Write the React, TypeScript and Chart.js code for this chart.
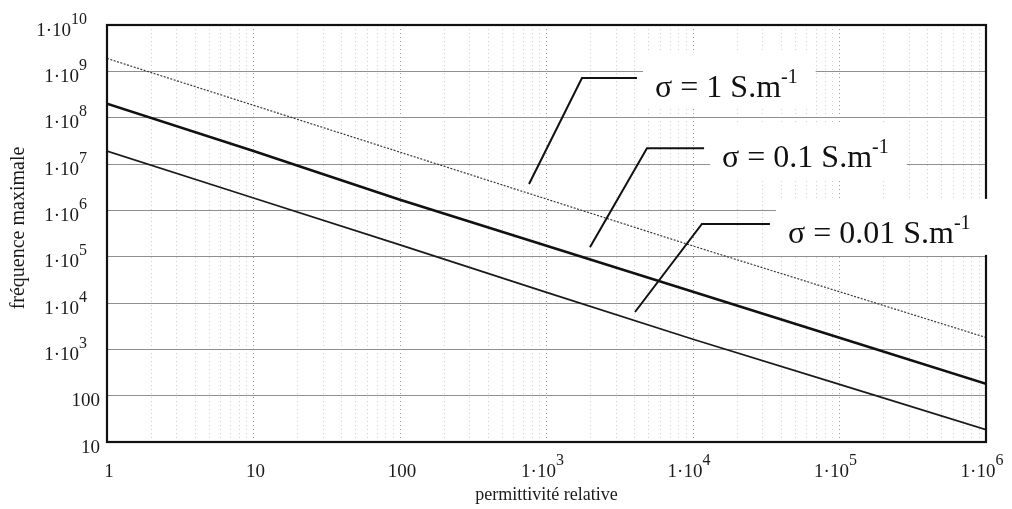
import React, { useEffect, useRef } from "react";
import { Chart, registerables } from "chart.js";

Chart.register(...registerables);

// ---- data ----
const permittivity = [1, 10, 100, 1e3, 1e4, 1e5, 1e6];
const freqSigma1 = [1.9e9, 1.85e8, 1.8e7, 1.75e6, 1.7e5, 1.75e4, 1.8e3];
const freqSigma01 = [2.0e8, 1.9e7, 1.7e6, 1.72e5, 1.75e4, 1.78e3, 180];
const freqSigma001 = [1.9e7, 1.85e6, 1.8e5, 1.7e4, 1.65e3, 175, 18.5];

const seriesNames = ["σ = 1 S.m", "σ = 0.1 S.m", "σ = 0.01 S.m"];
const seriesUnitExp = "-1";

// ---- tick labels ----
const xTickValues = [1, 10, 100, 1e3, 1e4, 1e5, 1e6];
const xTickBase = ["1", "10", "100", "1·10", "1·10", "1·10", "1·10"];
const xTickExp = ["", "", "", "3", "4", "5", "6"];

const yTickValues = [10, 100, 1e3, 1e4, 1e5, 1e6, 1e7, 1e8, 1e9, 1e10];
const yTickBase = ["10", "100", "1·10", "1·10", "1·10", "1·10", "1·10", "1·10", "1·10", "1·10"];
const yTickExp = ["", "", "3", "4", "5", "6", "7", "8", "9", "10"];

const xTitle = "permittivité relative";
const yTitle = "fréquence maximale";

// leader lines of the labels, in data coordinates [permittivity, frequency]
const leaderStart = [[760, 3.7e6], [1980, 1.6e5], [4020, 6.4e3]];
const leaderElbow = [[1746, 7.2e8], [4850, 2.2e7], [11500, 5.1e5]];
const leaderEnd = [[4150, 7.2e8], [11900, 2.2e7], [33500, 5.1e5]];

const SERIF = "'Liberation Serif', 'Times New Roman', serif";

function drawSup(
  ctx: CanvasRenderingContext2D,
  base: string,
  exp: string,
  x: number,
  baseline: number,
  align: "left" | "right" | "center",
  baseFont: string,
  expFont: string,
  raise: number
) {
  ctx.font = baseFont;
  const wb = ctx.measureText(base).width;
  ctx.font = expFont;
  const we = exp ? ctx.measureText(exp).width : 0;
  const total = wb + we;
  const left = align === "left" ? x : align === "right" ? x - total : x - total / 2;
  ctx.textAlign = "left";
  ctx.textBaseline = "alphabetic";
  ctx.font = baseFont;
  ctx.fillText(base, left, baseline);
  if (exp) {
    ctx.font = expFont;
    ctx.fillText(exp, left + wb, baseline - raise);
  }
  return total;
}

const decorPlugin = {
  id: "decor",
  beforeDraw(chart: any) {
    const ctx = chart.ctx as CanvasRenderingContext2D;
    ctx.save();
    ctx.fillStyle = "#ffffff";
    ctx.fillRect(0, 0, chart.width, chart.height);
    ctx.restore();
  },
  afterDatasetsDraw(chart: any) {
    const ctx = chart.ctx as CanvasRenderingContext2D;
    const area = chart.chartArea;
    const xs = chart.scales.x;
    const ys = chart.scales.y;
    ctx.save();
    // frame
    ctx.strokeStyle = "#111";
    ctx.lineWidth = 2.2;
    ctx.strokeRect(area.left, area.top, area.right - area.left, area.bottom - area.top);

    // labels with leader lines
    const bigFont = `32px ${SERIF}`;
    const supFont = `20px ${SERIF}`;
    for (let i = 0; i < seriesNames.length; i++) {
      const sx = xs.getPixelForValue(leaderStart[i][0]);
      const sy = ys.getPixelForValue(leaderStart[i][1]);
      const ex = xs.getPixelForValue(leaderElbow[i][0]);
      const ey = ys.getPixelForValue(leaderElbow[i][1]);
      const tx = xs.getPixelForValue(leaderEnd[i][0]);
      const ty = ys.getPixelForValue(leaderEnd[i][1]);
      const textLeft = tx + 18;
      const baseline = ty + 19;
      ctx.font = bigFont;
      const wb = ctx.measureText(seriesNames[i]).width;
      ctx.font = supFont;
      const we = ctx.measureText(seriesUnitExp).width;
      // white box
      ctx.fillStyle = "#ffffff";
      ctx.fillRect(textLeft - 12, baseline - 44, wb + we + 30, 56);
      // leader
      ctx.strokeStyle = "#111";
      ctx.lineWidth = 2;
      ctx.beginPath();
      ctx.moveTo(sx, sy);
      ctx.lineTo(ex, ey);
      ctx.lineTo(tx, ty);
      ctx.stroke();
      ctx.fillStyle = "#111";
      drawSup(ctx, seriesNames[i], seriesUnitExp, textLeft, baseline, "left", bigFont, supFont, 14);
    }

    // tick labels
    ctx.fillStyle = "#1a1a1a";
    const tickFont = `19px ${SERIF}`;
    const expFont = `16px ${SERIF}`;
    for (let i = 0; i < yTickValues.length; i++) {
      const py = ys.getPixelForValue(yTickValues[i]);
      if (yTickExp[i]) {
        drawSup(ctx, yTickBase[i], yTickExp[i], area.left - 20, py + 10.5, "right", tickFont, expFont, 12);
      } else {
        drawSup(ctx, yTickBase[i], "", area.left - 7, py + 10.5, "right", tickFont, expFont, 12);
      }
    }
    for (let i = 0; i < xTickValues.length; i++) {
      const px = xs.getPixelForValue(xTickValues[i]);
      if (xTickExp[i]) {
        drawSup(ctx, xTickBase[i], xTickExp[i], px - 4, area.bottom + 35, "center", tickFont, expFont, 12);
      } else {
        drawSup(ctx, xTickBase[i], "", px + 2, area.bottom + 35, "center", tickFont, expFont, 12);
      }
    }

    // axis titles
    ctx.font = `18px ${SERIF}`;
    ctx.textAlign = "center";
    ctx.textBaseline = "alphabetic";
    ctx.fillText(xTitle, (area.left + area.right) / 2, area.bottom + 58);
    ctx.font = `20px ${SERIF}`;
    ctx.translate(24, 228);
    ctx.rotate(-Math.PI / 2);
    ctx.fillText(yTitle, 0, 0);
    ctx.restore();
  },
};

export default function App() {
  const canvasRef = useRef<HTMLCanvasElement | null>(null);

  useEffect(() => {
    const canvas = canvasRef.current;
    if (!canvas) return;
    const mk = (arr: number[]) => permittivity.map((x, i) => ({ x, y: arr[i] }));
    const xGrid: number[] = [];
    for (let d = 1; d < 1e6; d *= 10) {
      for (let k = 1; k < 10; k++) xGrid.push(k * d);
    }
    xGrid.push(1e6);

    const chart = new Chart(canvas, {
      type: "line",
      data: {
        datasets: [
          {
            label: seriesNames[0],
            data: mk(freqSigma1),
            borderColor: "#3a3a3a",
            borderWidth: 1.2,
            borderDash: [2, 1.5],
            pointRadius: 0,
            tension: 0,
          },
          {
            label: seriesNames[1],
            data: mk(freqSigma01),
            borderColor: "#111",
            borderWidth: 2.6,
            pointRadius: 0,
            tension: 0,
          },
          {
            label: seriesNames[2],
            data: mk(freqSigma001),
            borderColor: "#1a1a1a",
            borderWidth: 1.7,
            pointRadius: 0,
            tension: 0,
          },
        ],
      },
      options: {
        animation: false,
        responsive: false,
        devicePixelRatio: 1,
        layout: { padding: { left: 0, top: 25, right: 26, bottom: 0 } },
        plugins: { legend: { display: false }, tooltip: { enabled: false } },
        scales: {
          x: {
            type: "logarithmic",
            min: 1,
            max: 1e6,
            afterBuildTicks: (s: any) => {
              s.ticks = xGrid.map((v) => ({ value: v }));
            },
            afterFit: (s: any) => {
              s.height = 67;
            },
            ticks: { display: false },
            grid: {
              drawTicks: false,
              color: (c: any) => {
                const v = c.tick ? c.tick.value : 0;
                const l = Math.log10(v);
                return Math.abs(l - Math.round(l)) < 1e-9 ? "#9a9a9a" : "#cdcdcd";
              },
              lineWidth: 1,
            },
            border: { display: false, dash: [1, 3] },
          },
          y: {
            type: "logarithmic",
            min: 10,
            max: 1e10,
            afterBuildTicks: (s: any) => {
              s.ticks = yTickValues.map((v) => ({ value: v }));
            },
            afterFit: (s: any) => {
              s.width = 107;
            },
            ticks: { display: false },
            grid: { drawTicks: false, color: "#8f8f8f", lineWidth: 1 },
            border: { display: false },
          },
        },
      },
      plugins: [decorPlugin],
    } as any);
    return () => chart.destroy();
  }, []);

  return (
    <div style={{ position: "fixed", left: 0, top: 0, width: 1012, height: 509, background: "#fff" }}>
      <canvas ref={canvasRef} width={1012} height={509} style={{ display: "block" }} />
    </div>
  );
}
